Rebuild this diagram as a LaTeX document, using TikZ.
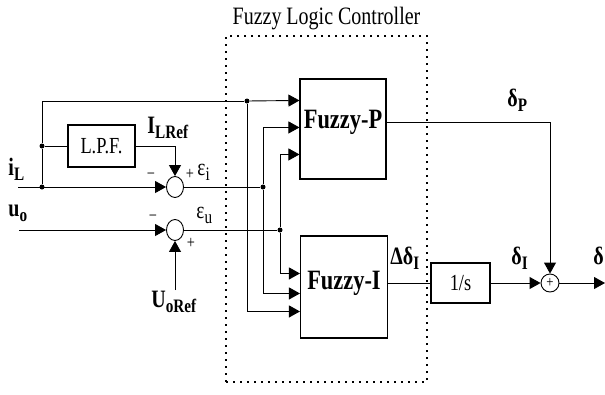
\documentclass[tikz,border=0pt]{standalone}
\usepackage{fontspec}
\setmainfont[FakeStretch=0.8]{Liberation Serif}
\usetikzlibrary{positioning,arrows.meta,calc,shapes.geometric}
\newcommand\lsub[1]{\raisebox{-5pt}{\fontsize{19}{19}\selectfont #1}}

\begin{document}
\begin{tikzpicture}[x=1pt,y=-1pt,>={Triangle[length=11pt,width=12pt]},line width=0.9pt,
    blk/.style={draw,line width=1.1pt,inner sep=0pt,font=\fontsize{23}{25}\selectfont},
    fuzzy/.style={font=\fontsize{28}{30}\selectfont\bfseries,inner sep=0pt},
    sumnode/.style={draw,ellipse,minimum width=17pt,minimum height=21pt,inner sep=0pt},
    dot/.style={circle,fill,inner sep=0pt,minimum size=5pt},
    lbl/.style={font=\fontsize{25}{27}\selectfont\bfseries,inner sep=0pt,anchor=base west},
    elbl/.style={font=\fontsize{24}{26}\selectfont,inner sep=0pt,anchor=base west},
    sgn/.style={font=\fontsize{18}{18}\selectfont,inner sep=0pt}]
    \useasboundingbox (0,0) rectangle (605,394);
    % controller frame
    \node[draw,dash pattern=on 1.6pt off 5.4pt,line width=1.6pt,minimum width=201pt,minimum height=346pt] (flc) at (326.5,209) {};
    \node[font=\fontsize{25}{27}\selectfont,anchor=base,inner sep=0pt] (ttl) at ($(flc.north)+(0,-11)$) {Fuzzy Logic Controller};
    % blocks
    \node[blk,minimum width=86pt,minimum height=100pt] (fp) at (343,129) {};
    \node[fuzzy] (fpt) at (343,122) {Fuzzy-P};
    \node[blk,minimum width=87pt,minimum height=102pt] (fi) at (344,287) {};
    \node[fuzzy] (fit) at (344,283) {Fuzzy-I};
    \node[blk,minimum width=67pt,minimum height=42pt] (lpf) at (101.5,146) {L.P.F.};
    \node[blk,minimum width=59pt,minimum height=40pt] (ints) at (460.5,283) {1/s};
    \node[sumnode] (s1) at (175,187) {};
    \node[sumnode] (s2) at (175,230) {};
    \node[draw,circle,minimum size=18pt,inner sep=0pt,font=\fontsize{16}{16}\selectfont] (s3) at (550,283) {+};
    % input rows on the fuzzy blocks
    \coordinate (fpa) at ($(fp.north west)+(0,22)$);
    \coordinate (fpb) at ($(fp.north west)+(0,49)$);
    \coordinate (fpc) at ($(fp.north west)+(0,76)$);
    \coordinate (fia) at ($(fi.north west)+(0,38)$);
    \coordinate (fib) at ($(fi.north west)+(0,58)$);
    \coordinate (fic) at ($(fi.north west)+(0,76)$);
    % junctions
    \coordinate (iL) at (18,187);
    \coordinate (uo) at (19,230);
    \coordinate (uref) at (175,290);
    \coordinate (out) at (605,283);
    \node[dot] (ja) at (42,187) {};
    \node[dot] (jb) at (42,146) {};
    \node[dot] (jc) at (247,101) {};
    \node[dot] (jd) at (263,187) {};
    \node[dot] (je) at (280,230) {};
    % connectors
    \draw[->] (iL) -- (s1);
    \draw (ja) -- (jb) -- (lpf);
    \draw (jb) -- (jb |- jc) -- (jc);
    \draw[->] (lpf) -| (s1);
    \draw[->] (uo) -- (s2);
    \draw[->] (uref) -- (s2);
    \draw[->] (jc) -- (fpa);
    \draw[->] (jc) |- (fic);
    \draw (s1) -- (jd);
    \draw[->] (jd) |- (fpb);
    \draw[->] (jd) |- (fib);
    \draw (s2) -- (je);
    \draw[->] (je) |- (fpc);
    \draw[->] (je) |- (fia);
    \draw[->] (fpt -| fp.east) -| (s3);
    \draw (fit -| fi.east) -- (ints);
    \draw[->] (ints) -- (s3);
    \draw[->] (s3) -- (out);
    % labels
    \node[lbl] (liL) at (8,175) {i\lsub{L}};
    \node[lbl] (luo) at (8,216) {u\lsub{o}};
    \node[lbl] (lir) at (147,133) {I\lsub{LRef}};
    \node[lbl] (lur) at (151,307) {U\lsub{oRef}};
    \node[elbl] (lei) at (197,175) {ε\lsub{i}};
    \node[elbl] (leu) at (196,218) {ε\lsub{u}};
    \node[lbl] (ldp) at (507,106) {δ\lsub{P}};
    \node[lbl] (lddi) at (390,264) {Δδ\lsub{I}};
    \node[lbl] (ldi) at (511,264) {δ\lsub{I}};
    \node[lbl] (ld) at (593,264) {δ};
    \node[sgn] (m1) at (151,176) {−};
    \node[sgn] (p1) at (190,174) {+};
    \node[sgn] (m2) at (153,218) {−};
    \node[sgn] (p2) at (191,243) {+};
  \end{tikzpicture}
\end{document}
